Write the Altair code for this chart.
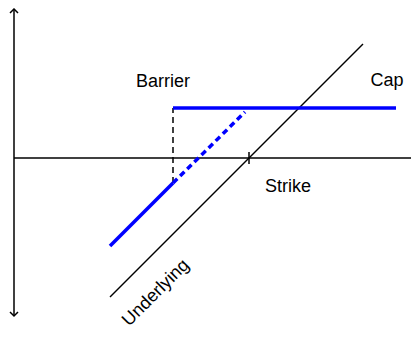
import altair as alt
import pandas as pd

# Diagram values (x = underlying price axis, y = payoff axis, origin at axis crossing)
axis_x_end = 397
axis_y_top = 149
axis_y_bottom = -158
strike = 235
barrier = 159
cap_level = 50
cap_end = 382
underlying_x = [96, 349]
underlying_y = [-139, 114]
payoff_solid_x = [96, 159]
payoff_solid_y = [-88, -25]
payoff_dashed_x = [159, 231]
payoff_dashed_y = [-25, 46]
tick_half = 6

labels = ["Barrier", "Cap", "Strike", "Underlying"]
label_x = [149, 373, 274, 142]
label_y = [76, 77, -29, -135]
label_angle = [0, 0, 0, 315]

W, H = 403, 324
xs = alt.Scale(domain=[-6, W - 6], nice=False, zero=False)
ys = alt.Scale(domain=[150 - H, 150], nice=False, zero=False)


def seg(x1, y1, x2, y2):
    return pd.DataFrame({"x": [x1], "y": [y1], "x2": [x2], "y2": [y2]})


def rule(df, color="black", width=1.5, dash=None):
    kw = dict(color=color, strokeWidth=width, strokeCap="butt")
    if dash:
        kw["strokeDash"] = dash
    return alt.Chart(df).mark_rule(**kw).encode(
        x=alt.X("x:Q", scale=xs, axis=None),
        y=alt.Y("y:Q", scale=ys, axis=None),
        x2="x2:Q",
        y2="y2:Q",
    )


axes = rule(pd.concat([
    seg(0, axis_y_top, 0, axis_y_bottom),
    seg(0, 0, axis_x_end, 0),
    seg(strike, -tick_half, strike, tick_half),
]))
under = rule(seg(underlying_x[0], underlying_y[0], underlying_x[1], underlying_y[1]))
barrier_line = rule(seg(barrier, payoff_solid_y[1], barrier, cap_level), dash=[6, 4])
cap_line = rule(seg(barrier, cap_level, cap_end, cap_level), color="#0000ff", width=3.5)
solid = rule(seg(payoff_solid_x[0], payoff_solid_y[0], payoff_solid_x[1], payoff_solid_y[1]),
             color="#0000ff", width=3.5)
dashed = rule(seg(payoff_dashed_x[0], payoff_dashed_y[0], payoff_dashed_x[1], payoff_dashed_y[1]),
              color="#0000ff", width=3.5, dash=[6, 4])

arrows_df = pd.DataFrame({"x": [0, 0], "y": [axis_y_top, axis_y_bottom],
                          "dir": ["up", "down"]})
arrow_up = alt.Chart(arrows_df[arrows_df.dir == "up"]).mark_point(
    shape="M-1,1L0,0L1,1", size=64, filled=False, color="black", strokeWidth=1.5, opacity=1
).encode(x=alt.X("x:Q", scale=xs, axis=None), y=alt.Y("y:Q", scale=ys, axis=None))
arrow_down = alt.Chart(arrows_df[arrows_df.dir == "down"]).mark_point(
    shape="M-1,-1L0,0L1,-1", size=64, filled=False, color="black", strokeWidth=1.5, opacity=1
).encode(x=alt.X("x:Q", scale=xs, axis=None), y=alt.Y("y:Q", scale=ys, axis=None))

text_df = pd.DataFrame({"label": labels, "x": label_x, "y": label_y, "angle": label_angle})
texts = alt.Chart(text_df).mark_text(
    font="Liberation Sans", fontSize=18, color="black", align="center", baseline="middle"
).encode(
    x=alt.X("x:Q", scale=xs, axis=None),
    y=alt.Y("y:Q", scale=ys, axis=None),
    text="label:N",
    angle=alt.Angle("angle:Q", scale=None),
)

chart = alt.layer(
    axes, under, barrier_line, solid, dashed, cap_line, arrow_up, arrow_down, texts
).properties(
    width=W, height=H, autosize=alt.AutoSizeParams(type="none"), padding=0
).configure_view(stroke=None)

chart.save("out.html", embed_options={"renderer": "svg", "actions": False})
